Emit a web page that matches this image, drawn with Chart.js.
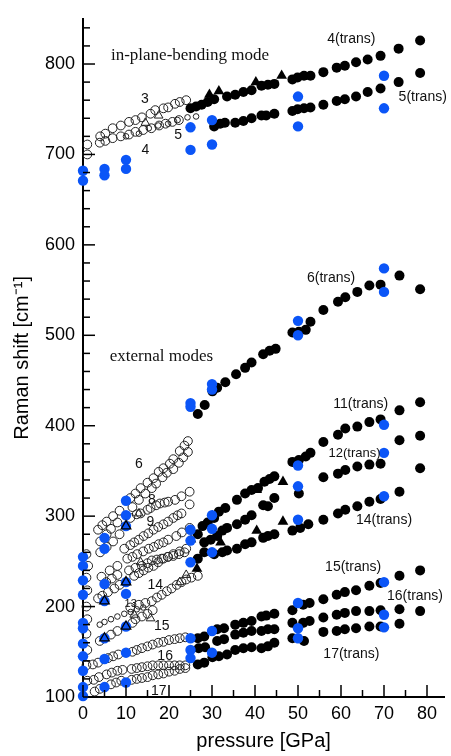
<!DOCTYPE html>
<html lang="en">
<head>
<meta charset="UTF-8">
<title>Raman shift vs pressure</title>
<script src="https://cdn.jsdelivr.net/npm/chart.js"></script>
<style>
    * { margin: 0; padding: 0; box-sizing: border-box; }
    body { background: #fff; width: 451px; height: 756px; overflow: hidden; }
</style>
</head>
<body>
<canvas id="ramanChart" width="451" height="756"></canvas>
<script>
// all points are [pressure GPa, Raman shift cm-1]

// low pressure phase, open circles
var open3 = [[1,711],[4,720],[5.2,723],[6.9,729],[8.8,732],[10.7,736],[12.2,738],[13.7,741],[15.7,745],[16.8,749],[18.7,751],[19.8,752],[21.4,756],[22.5,758],[24,760]];
var open4 = [[1,700],[3.9,713],[5.2,715],[6.9,718],[8.8,720],[10.7,722],[12.2,725],[14,727],[15.9,729],[17.7,732],[19.2,734],[20.8,736],[22.3,738]];
var open6a = [[3.5,285],[4.5,290],[5.5,294],[7,300],[8.5,306],[11,320],[12.2,325],[13.4,331],[15,337],[16.4,342],[17.6,349],[18.7,353],[20.2,358],[21,363],[22.5,372],[23.6,378],[24.4,383]];
var open6b = [[4,272],[5.5,280],[6.5,286],[8,293],[11.5,310],[13,318],[14.5,325],[16,331],[17,336],[18.5,343],[19.5,348],[21,352],[22.3,359],[23.3,365],[24.4,371]];
var open8 = [[4,260],[5.5,266],[7,272],[8.5,280],[11,298],[12.5,302],[13.4,303],[15,307],[15.7,309],[17,312],[17.9,314],[19,315],[19.8,316],[21.4,318],[22.9,322],[24.8,327]];
var open9 = [[9.6,264],[11,268],[11.9,271],[13,274],[14.1,278],[15.2,281],[16.4,285],[17.5,288],[18.7,291],[19.8,294],[21,298],[22,301],[22.9,303],[24.8,313]];
var open10 = [[4.3,233],[6.2,240],[8,245],[10.3,253],[11.5,255],[12.6,258],[14,261],[15.3,264],[16.5,266],[17.6,269],[18.7,271],[19.8,274],[21.7,278],[23,282],[24.8,287]];
var open11 = [[5.4,227],[6.7,231],[8,235],[10.7,240],[12.2,243],[13.7,245],[15,248],[16,251],[17.2,252],[18.3,253],[19.7,255],[21,256],[22.3,258],[23.6,260]];
var open12 = [[3.5,209],[4.5,212],[5.8,216],[7.3,220],[8.5,224],[11.9,234],[13,237],[14.1,240],[15.2,243],[16.4,245],[17.5,249],[18.7,253],[19.8,255],[21,258],[22.5,261],[24,264]];
var open13 = [[3.9,162],[6.5,169],[8,173],[11.5,182],[12.2,186],[13.7,189],[15,192],[16.2,196]];
var open14 = [[11,199],[13,202],[14.5,204],[16,206],[17.2,210],[18.3,213],[19.5,217],[20.6,220],[21.8,224],[22.9,227],[24,230],[25.2,232],[26.7,234]];
var open15 = [[2.3,136],[3.5,138],[5.8,143],[7,145],[8.2,147],[11.5,150],[12.5,152],[13.7,154],[15,156],[16.2,158],[17.5,160],[18.7,161],[20,163],[21.3,164],[22.5,165],[23.8,166]];
var open16 = [[2.5,119],[3.7,122],[5.5,125],[6.7,127],[8,129],[9.2,130],[11.3,131],[12.5,132],[13.7,133],[15,134],[16.2,135],[17.5,135],[18.7,135],[20,135],[21.3,135],[22.5,135],[23.8,135]];
var open17 = [[2.7,106],[3.9,109],[6.5,114],[7.7,116],[8.9,118],[11.3,119],[12.5,120],[13.7,121],[15,122],[16.2,124],[17.5,125],[18.7,126],[20,128],[21.3,129],[22.5,131],[23.8,132]];
var openZero = [[0.8,258],[1.2,245],[0.8,232],[1,218],[0.8,200],[1,186],[0.8,170],[1,152],[0.8,135],[1,118]];
// small open circles
var small5 = [[10,720],[13,723],[15.3,729],[17.5,732],[19.8,734],[22,738],[24.3,741],[26.3,742]];
var small13 = [[3.9,180],[5,183],[6.5,186],[8,189],[9.6,192],[11.1,194],[12.5,197],[14,199]];
// open triangles
var openTri = [[13,303],[25.2,274],[13.4,249],[15.7,187],[22.5,227],[17.6,743],[11.9,191],[14.5,735],[24,235]];

// transition phase, filled black circles
var trans4 = [[25,751],[26.3,753],[27.6,755],[29,758],[30.5,761],[33.5,764],[35.4,766],[37.3,769],[39.2,771],[41.5,776],[43,777],[44.5,778],[48.7,783],[49.9,785],[51.4,787],[52.9,787],[55.9,791],[59,796],[60.9,798],[63.5,802],[66.2,805],[69.2,809],[73.4,817],[78.4,826]];
var trans5 = [[30.5,731],[31.9,734],[33,735],[35.4,735],[37.3,737],[39.2,740],[41.5,743],[42.6,743],[44.5,745],[48.7,748],[49.9,750],[51.4,751],[52.9,752],[55.9,755],[59,759],[60.9,761],[63.5,764],[66.2,769],[69.2,773],[73.4,780],[78.4,790]];
var trans6 = [[26.7,413],[28.3,423],[30.1,438],[31.2,442],[33.1,448],[35.6,457],[37.7,464],[39.2,470],[41.9,479],[43.4,483],[44.8,485],[48.7,503],[50.2,504],[51.8,506],[52.9,515],[55.9,528],[59.3,537],[61,542],[63.8,548],[66.6,555],[69.2,556],[73.6,566],[78.4,551]];
var trans11 = [[26.7,280],[27.8,289],[29,293],[30.5,298],[31.6,305],[33.1,309],[35.8,318],[37.7,325],[39.2,329],[40.7,331],[42.2,338],[43.4,341],[44.5,344],[48.7,360],[50.2,362],[51.8,366],[52.9,370],[55.9,382],[59.3,390],[61,397],[63.8,399],[66.6,404],[69.2,407],[73.6,417],[78.4,426]];
var trans12 = [[28.2,271],[29.7,274],[31.2,278],[32.4,284],[33.5,287],[35.8,291],[37.7,296],[39.2,301],[41.9,312],[43,311],[44.5,320],[50.2,325],[55.9,343],[59.3,347],[61,351],[63.8,355],[66.6,357],[69.2,358],[73.6,384],[78.4,389]];
var trans14 = [[26.7,253],[28.2,260],[30.5,258],[32.4,260],[33.5,262],[35.8,264],[37.7,269],[39.2,271],[41.9,276],[43,278],[44.5,280],[48.7,284],[50.5,287],[52.4,291],[55.9,296],[59.3,303],[61,307],[63.8,311],[66.6,316],[69.2,319],[73.6,327],[78.4,353]];
var trans15 = [[26.7,165],[28.2,167],[31.2,175],[32.8,176],[35.4,180],[37.3,182],[39.2,184],[41.5,189],[42.6,190],[44.5,192],[48.7,196],[51.2,202],[52.7,204],[55.9,208],[59,213],[60.9,216],[63.5,218],[66.6,223],[69.2,226],[73.6,234],[78.4,240]];
var trans16 = [[26.9,154],[28.4,155],[31.2,162],[32.8,164],[35.4,169],[37.3,171],[39.2,173],[41.5,173],[43,175],[44.5,175],[48.7,182],[51.2,182],[52.7,184],[55.9,188],[59,191],[60.9,193],[63.5,195],[66.6,195],[69.2,196],[73.6,197],[78.4,195]];
var trans17 = [[26.7,136],[28.2,138],[30.1,144],[31.6,145],[33.5,147],[35.4,152],[37.3,154],[39.2,155],[41.5,154],[43,156],[44.5,160],[48.7,165],[51.4,162],[55.9,172],[59,173],[60.9,175],[63.5,176],[66.6,178],[69.2,178],[73.6,181]];
// filled black triangles
var transTri = [[29.4,766],[31.6,770],[40.2,780],[46.2,787],[30.1,300],[40.4,329],[46.5,338],[32,271],[40.4,284],[46.5,294],[26.5,242]];

// blue points
var bluePts = [
    [0,682],[0,671],[0,255],[0,245],[0,229],[0,213],[0,182],[0,176],[0,159],[0,145],[0,129],[0,111],[0,101],
    [5,684],[5,677],[5,276],[5,264],[5,225],[5,206],[5,165],[5,142],[5,111],
    [10,694],[10,684],[10,317],[10,301],[10,289],[10,227],[10,214],[10,178],[10,149],[10,116],
    [25,730],[25,705],[25,425],[25,421],[25,285],[25,273],[25,249],[25,165],[25,152],[25,143],
    [30,738],[30,711],[30,446],[30,440],[30,301],[30,286],[30,260],[30,173],[30,149],
    [50,764],[50,731],[50,516],[50,500],[50,356],[50,333],[50,296],[50,204],[50,176],[50,165],
    [70,787],[70,751],[70,574],[70,548],[70,401],[70,370],[70,322],[70,227],[70,191],[70,177]
];
var blueTri = [[5,206],[5,165],[10,289],[10,227],[10,178]];

var xTicks = [0, 10, 20, 30, 40, 50, 60, 70, 80];
var yTicks = [100, 200, 300, 400, 500, 600, 700, 800];

// text labels placed in data coordinates
var notes = [
    {t: 'in-plane-bending mode', x: 6.5, y: 809, serif: true},
    {t: 'external modes', x: 6.2, y: 477, serif: true},
    {t: '4(trans)', x: 56.8, y: 828},
    {t: '5(trans)', x: 73.4, y: 763},
    {t: '6(trans)', x: 52.1, y: 563},
    {t: '11(trans)', x: 58.2, y: 424},
    {t: '12(trans)', x: 57.1, y: 369, size: 13},
    {t: '14(trans)', x: 63.5, y: 296},
    {t: '15(trans)', x: 56.3, y: 244},
    {t: '16(trans)', x: 70.7, y: 211},
    {t: '17(trans)', x: 55.9, y: 147},
    {t: '3', x: 14.4, y: 761, c: true},
    {t: '4', x: 14.5, y: 705, c: true},
    {t: '5', x: 22.1, y: 721, c: true},
    {t: '6', x: 13, y: 358, c: true},
    {t: '8', x: 16, y: 318, c: true},
    {t: '9', x: 15.7, y: 293, c: true},
    {t: '14', x: 16.8, y: 224, c: true},
    {t: '13', x: 11.1, y: 203, c: true, size: 11},
    {t: '15', x: 18.3, y: 178, c: true},
    {t: '16', x: 19.1, y: 145, c: true},
    {t: '17', x: 17.6, y: 107, c: true}
];

function xy(arr) {
    return arr.map(function (d) { return {x: d[0], y: d[1]}; });
}

var BLUE = '#0b55f7';
var openAll = [].concat(open3, open4, open6a, open6b, open8, open9, open10, open11, open12,
    open13, open14, open15, open16, open17, openZero);
var transAll = [].concat(trans4, trans5, trans6, trans11, trans12, trans14, trans15, trans16, trans17);

// inward tick marks and text labels
var extras = {
    id: 'extras',
    afterDraw: function (chart) {
        var ctx = chart.ctx, xs = chart.scales.x, ys = chart.scales.y;
        ctx.save();
        ctx.strokeStyle = '#000';
        ctx.lineWidth = 1.5;
        for (var p = 0; p <= 80; p += 5) {
            var px = xs.getPixelForValue(p);
            ctx.beginPath();
            ctx.moveTo(px, xs.top);
            ctx.lineTo(px, xs.top - (p % 10 === 0 ? 12 : 7));
            ctx.stroke();
        }
        for (var v = 100; v <= 840; v += 20) {
            var py = ys.getPixelForValue(v);
            ctx.beginPath();
            ctx.moveTo(ys.right, py);
            ctx.lineTo(ys.right + (v % 100 === 0 ? 12 : 7), py);
            ctx.stroke();
        }
        ctx.fillStyle = '#111';
        ctx.textBaseline = 'middle';
        notes.forEach(function (n) {
            var size = n.size || (n.serif ? 17 : 14);
            ctx.font = size + 'px ' + (n.serif ? '"Liberation Serif", "Times New Roman", serif' : '"Liberation Sans", Arial, sans-serif');
            ctx.textAlign = n.c ? 'center' : 'left';
            ctx.fillText(n.t, xs.getPixelForValue(n.x), ys.getPixelForValue(n.y));
        });
        ctx.restore();
    }
};

Chart.defaults.font.family = '"Liberation Sans", Arial, sans-serif';
Chart.defaults.color = '#000';

new Chart(document.getElementById('ramanChart'), {
    type: 'scatter',
    data: {
        datasets: [
            {data: xy(blueTri), pointStyle: 'triangle', pointRadius: 5.5, backgroundColor: 'rgba(0,0,0,0)', borderColor: '#000', borderWidth: 1.3, order: 1},
            {data: xy(bluePts), pointRadius: 5.2, backgroundColor: BLUE, borderColor: BLUE, borderWidth: 0, order: 2},
            {data: xy(transTri), pointStyle: 'triangle', pointRadius: 6.2, backgroundColor: '#000', borderColor: '#000', borderWidth: 0, order: 3},
            {data: xy(transAll), pointRadius: 5, backgroundColor: '#000', borderColor: '#000', borderWidth: 0, order: 4},
            {data: xy(openTri), pointStyle: 'triangle', pointRadius: 5, backgroundColor: 'rgba(0,0,0,0)', borderColor: '#222', borderWidth: 1, order: 5},
            {data: xy([].concat(small5, small13)), pointRadius: 2.8, backgroundColor: 'rgba(0,0,0,0)', borderColor: '#222', borderWidth: 1, order: 6},
            {data: xy(openAll), pointRadius: 4.4, backgroundColor: 'rgba(0,0,0,0)', borderColor: '#222', borderWidth: 1, order: 7}
        ]
    },
    options: {
        responsive: false,
        animation: false,
        devicePixelRatio: 1,
        layout: {padding: {top: 8, right: 0, left: 0, bottom: 0}},
        plugins: {legend: {display: false}, tooltip: {enabled: false}},
        datasets: {scatter: {clip: false}},
        scales: {
            x: {
                type: 'linear', min: 0, max: 84,
                afterBuildTicks: function (s) { s.ticks = xTicks.map(function (v) { return {value: v}; }); },
                afterFit: function (s) { s.height = 59; },
                grid: {display: false, drawTicks: false},
                border: {display: true, color: '#000', width: 2},
                ticks: {font: {size: 18}, padding: 6, maxRotation: 0},
                title: {display: true, text: 'pressure [GPa]', font: {size: 20}, padding: {top: 0, bottom: 3}}
            },
            y: {
                type: 'linear', min: 100, max: 850,
                afterBuildTicks: function (s) { s.ticks = yTicks.map(function (v) { return {value: v}; }); },
                afterFit: function (s) { s.width = 83; },
                grid: {display: false, drawTicks: false},
                border: {display: true, color: '#000', width: 2},
                ticks: {font: {size: 18}, padding: 8},
                title: {display: true, text: 'Raman shift [cm\u207B\u00B9]', font: {size: 20}, padding: {top: 10, bottom: 0}}
            }
        }
    },
    plugins: [extras]
});
</script>
</body>
</html>
